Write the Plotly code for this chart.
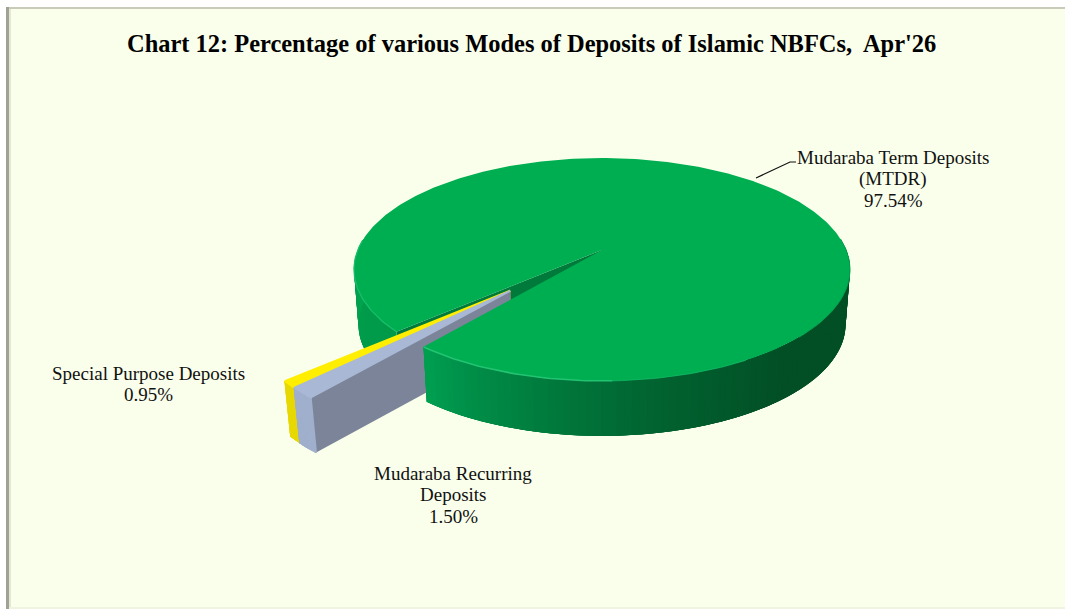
import math
import plotly.graph_objects as go

# Deposit modes and their shares, in percent
mode_lines = [["Mudaraba Term Deposits", "(MTDR)"], ["Mudaraba Recurring", "Deposits"], ["Special Purpose Deposits"]]
shares = [97.54, 1.50, 0.95]
title_text = "Chart 12: Percentage of various Modes of Deposits of Islamic NBFCs,  Apr'26"

FIRST_ANGLE = 228.0   # clockwise from the back of the disc
EXPLODE = 0.5
PULL_TURN = 1.2       # extra turn of the pull direction for the small slices
SLICE_R = 0.965
CX, CY, SX, SY, PERSP = 602.0, 250.0, 244.2, 108.0, 0.175
DEPTH, TAPER = 55.0, 0.018
BG = "#FAFFEB"
SERIF = "Liberation Serif, Times New Roman, serif"


def project(px, py, z):
    """Map a disc point (px right, py toward the viewer, z down 0..1) to canvas pixels."""
    w = 1 - PERSP * py
    return (CX + SX * px * (1 - TAPER * z) / w, CY + SY * py / w + DEPTH * z)


def rim(deg, r=1.0, off=(0.0, 0.0)):
    a = math.radians(deg)
    return off[0] + r * math.sin(a), off[1] - r * math.cos(a)


def span(a0, a1, step=1.0):
    n = max(1, int(round(abs(a1 - a0) / step)))
    return [a0 + (a1 - a0) * i / n for i in range(n + 1)]


def mix(stops, t):
    if t <= stops[0][0]:
        return stops[0][1]
    for (t0, c0), (t1, c1) in zip(stops, stops[1:]):
        if t <= t1:
            f = (t - t0) / (t1 - t0) if t1 > t0 else 0
            rgb = [int(round(int(c0[i:i + 2], 16) * (1 - f) + int(c1[i:i + 2], 16) * f)) for i in (1, 3, 5)]
            return "rgb(%d,%d,%d)" % tuple(rgb)
    return stops[-1][1]


fig = go.Figure()


def poly(points, color, edge=0, edge_color=None):
    fig.add_trace(go.Scatter(
        x=[p[0] for p in points] + [points[0][0]], y=[p[1] for p in points] + [points[0][1]],
        mode="lines", fill="toself", fillcolor=color,
        line=dict(color=edge_color or color, width=edge), hoverinfo="skip", showlegend=False))


def stroke(points, color, width):
    fig.add_trace(go.Scatter(
        x=[p[0] for p in points], y=[p[1] for p in points], mode="lines",
        line=dict(color=color, width=width), hoverinfo="skip", showlegend=False))


def wall(a0, a1, stops, r=1.0, off=(0.0, 0.0), step=1.5, edge=0):
    # Bands overlap the next one so no seams show between them
    angles = span(a0, a1, step)
    for i, p in enumerate(angles[:-1]):
        q = angles[min(i + 4, len(angles) - 1)]
        arc = span(p, q, 0.5)
        upper = [project(*rim(a, r, off), 0) for a in arc]
        lower = [project(*rim(a, r, off), 1) for a in reversed(arc)]
        poly(upper + lower, mix(stops, (p + angles[i + 1]) / 2), edge)


def top(a0, a1, r=1.0, off=(0.0, 0.0), step=1.0):
    return [project(*off, 0)] + [project(*rim(a, r, off), 0) for a in span(a0, a1, step)]


total = sum(shares)
sweeps = [s / total * 360 for s in shares]
green_start = FIRST_ANGLE
green_end = FIRST_ANGLE + sweeps[0]             # wraps past 360
grey_start, grey_end = green_end % 360, (green_end + sweeps[1]) % 360
yellow_start, yellow_end = grey_end, grey_end + sweeps[2]
# The two small slices are pulled out together, along the middle of their joint arc
pull = rim((grey_start + yellow_end) / 2 + PULL_TURN, EXPLODE)

LEFT_WALL = [(228, "#009A49"), (250, "#009C4B"), (280, "#00A851")]
FRONT_WALL = [(80, "#024F25"), (140, "#024F25"), (165, "#015F2E"), (180, "#016E36"),
              (195, "#00803F"), (210, "#00924A"), (222, "#00A452")]

# Inner cut face of the large slice, seen through the gap
edge = rim(green_start)
poly([project(0, 0, 0), project(*edge, 0), project(*edge, 1), project(0, 0, 1)], "#007A3A")

# Left part of the outer wall of the large slice
wall(green_start, 276, LEFT_WALL)

# Special purpose slice, with the cut face that meets the neighbouring slice
y0 = rim(yellow_start, SLICE_R, pull)
poly([project(*pull, 0), project(*y0, 0), project(*y0, 1), project(*pull, 1)], "#C9BE10")
wall(yellow_start, yellow_end, [(0, "#E6D800"), (360, "#E6D800")], SLICE_R, pull, 1.0, edge=2)
poly(top(yellow_start, yellow_end, SLICE_R, pull), "#FFEE00", edge=2.4)

# Recurring slice: cut face, outer wall, top
g0 = rim(grey_start, SLICE_R, pull)
poly([project(*pull, 0), project(*g0, 0), project(*g0, 1), project(*pull, 1)], "#7B8499")
wall(grey_start, grey_end, [(0, "#98A8C6"), (360, "#A4B4D0")], SLICE_R, pull, 1.0, edge=1.6)
poly(top(grey_start, grey_end, SLICE_R, pull), "#A9B8D5", edge=1.8)

# Front part of the outer wall and the top of the large slice
wall(84, grey_start, FRONT_WALL)
poly(top(green_start, green_end), "#00AE52")

# Soft highlight along the near rim, dark edge toward the right
for a0, a1, c, wd in [(178, grey_start, "#22C472", 1.6), (150, 178, "#0DB45F", 1.0),
                      (green_start, 275, "#18BE69", 1.3), (84, 135, "#00A04B", 1.0)]:
    stroke([project(*rim(a), 0) for a in span(a0, a1)], c, wd)

# Leader from the large slice to its label
leader_x = [756, 790, 796]
leader_y = [178, 162, 162]
stroke(list(zip(leader_x, leader_y)), "#111111", 1.2)


def label_block(x, y0, lines, size=19, gap=21.7):
    return [dict(x=x, y=y0 + i * gap, xref="x", yref="y", text=t, showarrow=False,
                 font=dict(family=SERIF, size=size, color="#111111")) for i, t in enumerate(lines)]


annotations = []
for (x, y0), lines, value in zip([(893, 157), (453, 473), (148, 373)], mode_lines, shares):
    annotations += label_block(x, y0, lines + ["%.2f%%" % value])
annotations.append(dict(x=531.5, y=43, xref="x", yref="y", text="<b>%s</b>" % title_text, showarrow=False,
                        font=dict(family=SERIF, size=24.45, color="#000000")))

shapes = [
    dict(type="rect", x0=6, y0=7, x1=1065, y1=609, fillcolor=BG, line_width=0, layer="below"),
    dict(type="rect", x0=9, y0=9, x1=11, y1=607, fillcolor="#E4E8D2", line_width=0, layer="below"),
    dict(type="rect", x0=6, y0=607, x1=1065, y1=609, fillcolor="#F1F3E2", line_width=0, layer="below"),
    dict(type="rect", x0=6, y0=7, x1=1065, y1=9, fillcolor="#C9CABA", line_width=0, layer="below"),
    dict(type="rect", x0=6, y0=7, x1=9, y1=609, fillcolor="#A0A294", line_width=0, layer="below"),
]

fig.update_layout(
    width=1065, height=609, autosize=False, margin=dict(l=0, r=0, t=0, b=0),
    paper_bgcolor="#FFFFFF", plot_bgcolor="rgba(0,0,0,0)", showlegend=False,
    xaxis=dict(range=[0, 1065], visible=False, fixedrange=True),
    yaxis=dict(range=[609, 0], visible=False, fixedrange=True),
    annotations=annotations, shapes=shapes,
)
fig.write_html("out.html", config={"displayModeBar": False})
